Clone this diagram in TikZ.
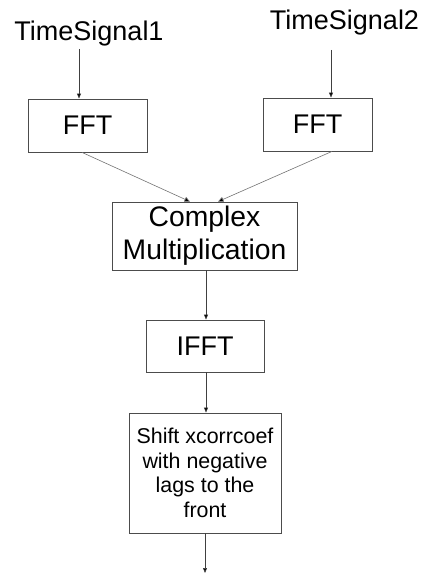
\documentclass[tikz,border=0pt]{standalone}
\usepackage{fontspec}
\setmainfont{Liberation Sans}
\usetikzlibrary{arrows.meta}
\begin{document}
\begin{tikzpicture}[x=1pt,y=-1pt,
  blockbox/.style={draw=black!70, line width=0.8pt, rectangle, inner sep=0pt,
    align=center, text=black},
  biglabel/.style={font=\fontsize{27}{32}\selectfont},
  midlabel/.style={font=\fontsize{28.3}{33}\selectfont},
  smalllabel/.style={font=\fontsize{21.4}{24.5}\selectfont},
  sig/.style={biglabel, inner sep=2pt, anchor=base},
  flow/.style={draw=black!75, line width=0.6pt,
    -{Triangle[length=5pt,width=4pt,fill=black]}},
  link/.style={draw=black!55, line width=0.6pt,
    -{Triangle[length=5.5pt,width=5pt,fill=black]}}]
  \useasboundingbox (0,0) rectangle (425,575);

  % inputs
  \node[sig] (ts1) at (89,41) {TimeSignal1};
  \node[sig] (ts2) at (344.5,30) {TimeSignal2};

  % processing blocks
  \node[blockbox, biglabel, minimum width=119pt, minimum height=53pt] (fft1) at (87.5,125.5) {FFT};
  \node[blockbox, biglabel, minimum width=109pt, minimum height=53pt] (fft2) at (317.5,124.5) {FFT};
  \node[blockbox, midlabel, minimum width=185pt, minimum height=68pt] (cm) at (204.5,236) {Complex\\Multiplication};
  \node[blockbox, biglabel, minimum width=118pt, minimum height=52pt] (ifft) at (205,346) {IFFT};
  \node[blockbox, smalllabel, minimum width=152pt, minimum height=120pt] (shift) at (205,473)
    {Shift xcorrcoef\\with negative\\lags to the\\front};
  \coordinate (out) at (205,573);

  % connectors
  \draw[flow] ([xshift=-10pt]ts1.south) -- ([xshift=-8.5pt]fft1.north);
  \draw[flow] ([xshift=-13.5pt,yshift=-12pt]ts2.south) -- ([xshift=13.5pt]fft2.north);
  \draw[link] ([xshift=-5.5pt]fft1.south) -- ([xshift=-14.5pt]cm.north);
  \draw[link] ([xshift=14.5pt]fft2.south) -- ([xshift=13.5pt]cm.north);
  \draw[flow] ([xshift=1.5pt]cm.south) -- ([xshift=1pt]ifft.north);
  \draw[flow] ([xshift=1pt]ifft.south) -- ([xshift=1pt]shift.north);
  \draw[flow] (shift.south) -- (out);
\end{tikzpicture}
\end{document}
